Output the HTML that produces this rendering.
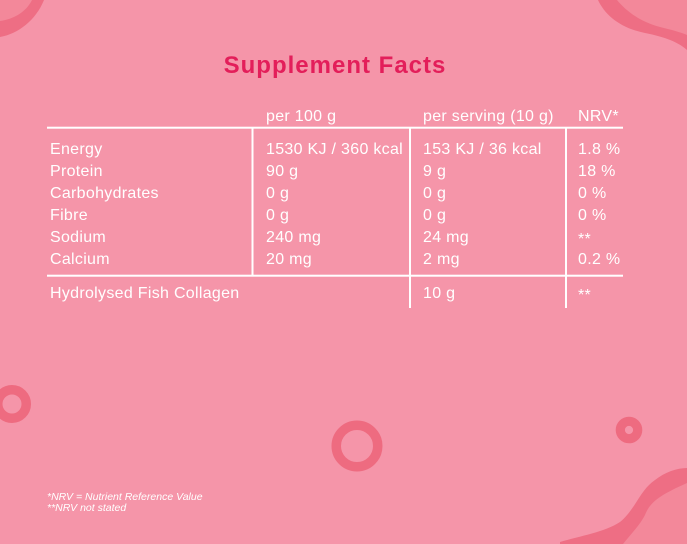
<!DOCTYPE html>
<html>
<head>
<meta charset="utf-8">
<style>
html,body{margin:0;padding:0;width:687px;height:544px;overflow:hidden;background:#f595a9;}
svg{display:block;}
.t{font-family:"Liberation Sans",Arial,sans-serif;font-size:16px;fill:#ffffff;letter-spacing:0.3px;}
.f{font-family:"Liberation Sans",Arial,sans-serif;font-size:10.5px;font-style:italic;fill:#ffffff;}
</style>
</head>
<body>
<svg width="687" height="544" viewBox="0 0 687 544" xmlns="http://www.w3.org/2000/svg">
  <rect width="687" height="544" fill="#f595a9"/>
  <!-- top-left corner -->
  <path d="M0,0 L44,0 C36,20 18,34 0,37 Z" fill="#ee6e84"/>
  <path d="M0,0 L32,0 C26,12 14,19 0,21 Z" fill="#f3889a"/>
  <!-- top-right corner -->
  <path d="M598,0 C605,15 620,28 645,33 C665,37 678,42 687,50 L687,0 Z" fill="#ee6e84"/>
  <path d="M617,0 C625,10 640,22 660,27 C672,30 680,32 687,35 L687,0 Z" fill="#f3889a"/>
  <!-- bottom-right corner -->
  <path d="M560,544 L560,542 C580,536 605,532 620,522 C635,510 640,490 655,480 C665,472 677,468 687,468 L687,544 Z" fill="#ee6e84"/>
  <path d="M623,544 C630,535 640,525 645,515 C650,502 660,495 687,483 L687,544 Z" fill="#f3889a"/>
  <!-- rings -->
  <circle cx="12" cy="404" r="14.25" fill="none" stroke="#ee6b80" stroke-width="9.5"/>
  <circle cx="357" cy="446" r="20.75" fill="none" stroke="#ee6b80" stroke-width="9.5"/>
  <circle cx="629" cy="430" r="8.7" fill="none" stroke="#ee6b80" stroke-width="9.2"/>

  <!-- title -->
  <text x="335" y="73" text-anchor="middle" font-family="'Liberation Sans',Arial,sans-serif" font-size="24" font-weight="bold" letter-spacing="1" fill="#e31e5a">Supplement Facts</text>

  <!-- headers -->
  <text class="t" x="266" y="121">per 100 g</text>
  <text class="t" x="423" y="121">per serving (10 g)</text>
  <text class="t" x="578" y="121">NRV*</text>

  <!-- lines -->
  <rect x="47" y="126.7" width="576" height="2" fill="#ffffff"/>
  <rect x="47" y="274.7" width="576" height="2" fill="#ffffff"/>
  <rect x="251.5" y="127" width="2" height="148" fill="#ffffff"/>
  <rect x="409" y="127" width="2" height="181" fill="#ffffff"/>
  <rect x="565" y="127" width="2" height="181" fill="#ffffff"/>

  <!-- column 1 -->
  <text class="t" x="50" y="154">Energy</text>
  <text class="t" x="50" y="176">Protein</text>
  <text class="t" x="50" y="198">Carbohydrates</text>
  <text class="t" x="50" y="220">Fibre</text>
  <text class="t" x="50" y="242">Sodium</text>
  <text class="t" x="50" y="264">Calcium</text>
  <text class="t" x="50" y="298">Hydrolysed Fish Collagen</text>

  <!-- column 2 -->
  <text class="t" x="266" y="154">1530 KJ / 360 kcal</text>
  <text class="t" x="266" y="176">90 g</text>
  <text class="t" x="266" y="198">0 g</text>
  <text class="t" x="266" y="220">0 g</text>
  <text class="t" x="266" y="242">240 mg</text>
  <text class="t" x="266" y="264">20 mg</text>

  <!-- column 3 -->
  <text class="t" x="423" y="154">153 KJ / 36 kcal</text>
  <text class="t" x="423" y="176">9 g</text>
  <text class="t" x="423" y="198">0 g</text>
  <text class="t" x="423" y="220">0 g</text>
  <text class="t" x="423" y="242">24 mg</text>
  <text class="t" x="423" y="264">2 mg</text>
  <text class="t" x="423" y="298">10 g</text>

  <!-- column 4 -->
  <text class="t" x="578" y="154">1.8 %</text>
  <text class="t" x="578" y="176">18 %</text>
  <text class="t" x="578" y="198">0 %</text>
  <text class="t" x="578" y="220">0 %</text>
  <text class="t" x="578" y="244">**</text>
  <text class="t" x="578" y="264">0.2 %</text>
  <text class="t" x="578" y="300">**</text>

  <!-- footnotes -->
  <text class="f" x="47" y="500">*NRV = Nutrient Reference Value</text>
  <text class="f" x="47" y="511">**NRV not stated</text>
</svg>
</body>
</html>
